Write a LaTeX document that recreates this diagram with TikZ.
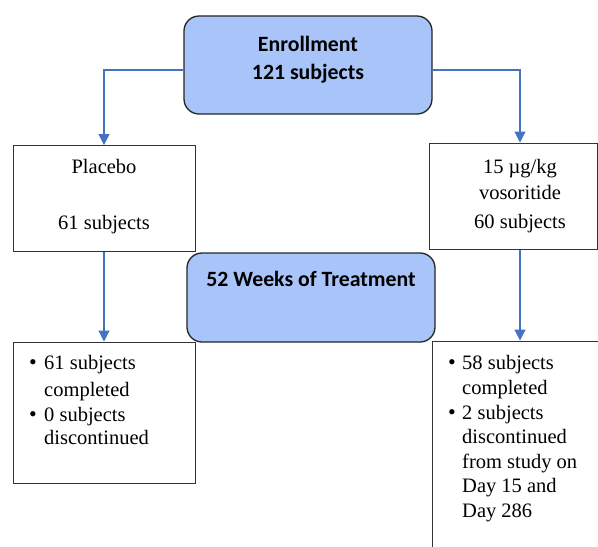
\documentclass[tikz,border=0pt]{standalone}
\usepackage{fontspec}
\setmainfont{Liberation Serif}
\newfontfamily\calfont{Carlito}
\usetikzlibrary{arrows.meta}
\definecolor{boxblue}{HTML}{A8C4F8}
\definecolor{linkblue}{HTML}{4472C4}
\begin{document}
\begin{tikzpicture}[x=1pt,y=-1pt,
  phase/.style={draw=black!85, fill=boxblue, rounded corners=15pt, line width=1.3pt, inner sep=0pt},
  arm/.style={draw=black!80, line width=1pt, inner sep=0pt},
  link/.style={draw=linkblue, line width=1.2pt, -{Triangle[width=11pt,length=11pt]}},
  ptxt/.style={font=\calfont\bfseries\fontsize{21.8}{24}\selectfont, inner sep=0pt, anchor=base},
  stxt/.style={font=\fontsize{20.5}{24}\selectfont, inner sep=0pt, anchor=base},
  ltxt/.style={font=\fontsize{20.5}{24}\selectfont, inner sep=0pt, anchor=base west},
  bul/.style={font=\fontsize{22}{24}\selectfont, inner sep=0pt, anchor=base}]
\clip (0,0) rectangle (598,547);
\fill[white] (0,0) rectangle (598,547);
% boxes
\node[phase, minimum width=248pt, minimum height=98pt] (enroll) at (308,65) {};
\node[arm, minimum width=182pt, minimum height=106pt] (placebo) at (104,198.5) {};
\node[arm, minimum width=168pt, minimum height=106pt] (voso) at (513,196) {};
\node[phase, minimum width=248pt, minimum height=89pt] (weeks) at (311,297.5) {};
\node[arm, minimum width=182pt, minimum height=141pt] (outL) at (104,412.5) {};
\node[arm, minimum width=188pt, minimum height=229pt] (outR) at (526,455.5) {};
% connectors
\draw[link] ([yshift=-5pt]enroll.west) -| (placebo.north);
\draw[link] ([yshift=-5pt]enroll.east) -| ([xshift=7pt]voso.north);
\draw[link] (placebo.south) -- (outL.north);
\draw[link] ([xshift=7pt]voso.south) -- ([xshift=7pt]voso.south |- outR.north);
% texts
\node[ptxt] (t1) at (308,51) {Enrollment};
\node[ptxt] (t2) at (308,79) {121 subjects};
\node[ptxt] (t3) at (311,286) {52 Weeks of Treatment};
\node[stxt] (t4) at (104,173) {Placebo};
\node[stxt] (t5) at (104,229) {61 subjects};
\node[stxt] (t6) at (520,173) {15 µg/kg};
\node[stxt] (t7) at (520,199) {vosoritide};
\node[stxt] (t8) at (520,228) {60 subjects};
% left outcomes
\node[bul] (b1) at (33,369) {\textbullet};
\node[ltxt] (l1) at (44,369) {61 subjects};
\node[ltxt] (l2) at (44,396) {completed};
\node[bul] (b2) at (33,421) {\textbullet};
\node[ltxt] (l3) at (44,421) {0 subjects};
\node[ltxt] (l4) at (44,444) {discontinued};
% right outcomes
\node[bul] (b3) at (452,369) {\textbullet};
\node[ltxt] (r1) at (462,369) {58 subjects};
\node[ltxt] (r2) at (462,394) {completed};
\node[bul] (b4) at (452,419) {\textbullet};
\node[ltxt] (r3) at (462,419) {2 subjects};
\node[ltxt] (r4) at (462,443) {discontinued};
\node[ltxt] (r5) at (462,468) {from study on};
\node[ltxt] (r6) at (462,492) {Day 15 and};
\node[ltxt] (r7) at (462,517) {Day 286};
\end{tikzpicture}
\end{document}
